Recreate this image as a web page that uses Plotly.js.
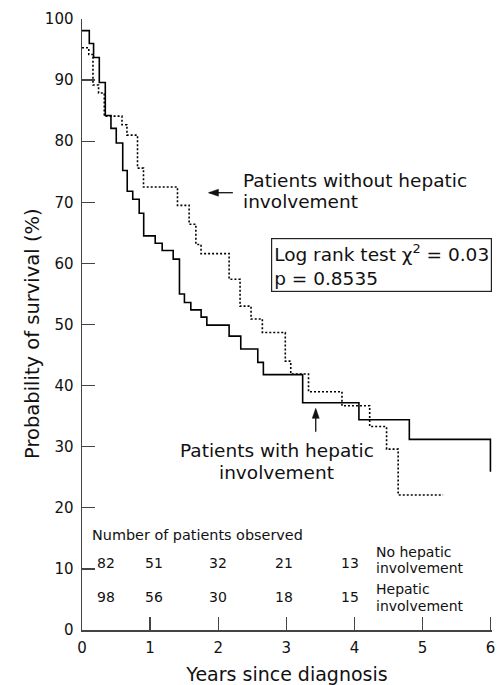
<!DOCTYPE html>
<html><head><meta charset="utf-8">
<script src="https://cdn.plot.ly/plotly-3.0.1.min.js"></script>
<style>html,body{margin:0;padding:0;background:#fff}</style>
</head><body><div id="chart" style="width:500px;height:685px"></div>
<script>
// Kaplan-Meier step data
const hepaticYears = [0, 0.107, 0.170, 0.254, 0.342, 0.425, 0.503, 0.598, 0.664, 0.745, 0.840, 0.906, 1.075, 1.177, 1.339, 1.431, 1.504, 1.598, 1.749, 1.833, 2.160, 2.331, 2.581, 2.663, 3.240, 4.066, 4.806, 5.997];
const hepaticSurvival = [98.1, 96.0, 93.7, 89.6, 84.2, 82.1, 79.7, 75.2, 71.8, 70.5, 68.2, 64.5, 63.3, 62.1, 60.7, 55.0, 53.6, 52.4, 51.2, 49.9, 48.1, 46.0, 43.8, 41.8, 37.2, 34.4, 31.2, 25.9];
const noHepaticYears = [0, 0.100, 0.161, 0.243, 0.327, 0.587, 0.660, 0.815, 0.903, 1.402, 1.573, 1.672, 1.748, 2.160, 2.321, 2.482, 2.648, 2.985, 3.065, 3.326, 3.817, 4.224, 4.472, 4.642, 5.302];
const noHepaticSurvival = [95.3, 94.2, 89.2, 87.9, 84.1, 82.7, 81.0, 75.6, 72.5, 69.5, 66.4, 63.1, 61.6, 57.4, 53.0, 50.9, 48.7, 44.0, 41.9, 39.0, 36.7, 33.3, 29.6, 22.1, 22.1];

// Number of patients observed table
const noHepaticCounts = [82, 51, 32, 21, 13];
const hepaticCounts = [98, 56, 30, 18, 15];
const rowLabels = [['No hepatic', 'involvement'], ['Hepatic', 'involvement']];

// Tick labels
const xTickVals = [0, 1, 2, 3, 4, 5, 6];
const yTickVals = [0, 10, 20, 30, 40, 50, 60, 70, 80, 90, 100];

// layout-only positions of the table columns (years) and rows (%)
const countCols = [0.35, 1.06, 2.0, 2.97, 3.93];
const rowY = [10.95, 5.45];
const rowLabelY = [[12.81, 10.2], [6.71, 3.98]];

const FONT = 'DejaVu Sans, Arial, sans-serif';
const AX = '#444';

const traces = [
  {x: hepaticYears, y: hepaticSurvival, type: 'scatter', mode: 'lines',
   line: {shape: 'hv', color: '#000', width: 1.6}, name: 'Hepatic involvement', hoverinfo: 'skip'},
  {x: noHepaticYears, y: noHepaticSurvival, type: 'scatter', mode: 'lines',
   line: {shape: 'hv', color: '#000', width: 1.6, dash: '2px,2px'}, name: 'No hepatic involvement', hoverinfo: 'skip'}
];

const ann = [];
const big = {family: FONT, size: 18.5, color: '#111'};
const small = {family: FONT, size: 14, color: '#111'};
function txt(x, y, text, font, xanchor, extra) {
  ann.push(Object.assign({x: x, y: y, xref: 'x', yref: 'y', xanchor: xanchor, yanchor: 'middle',
    text: text, showarrow: false, font: font}, extra || {}));
}
txt(2.34, 73.65, 'Patients without hepatic', big, 'left');
txt(2.34, 70.05, 'involvement', big, 'left');
ann.push({x: 2.78, y: 64.1, xref: 'x', yref: 'y', xanchor: 'left', yanchor: 'top', align: 'left',
  text: 'Log rank test χ<sup>2</sup> = 0.03<br>p = 0.8535', showarrow: false, font: big,
  bordercolor: '#222', borderwidth: 1.2, borderpad: 2, bgcolor: '#fff'});
txt(2.863, 29.46, 'Patients with hepatic', big, 'center');
txt(2.863, 25.74, 'involvement', big, 'center');
txt(0.115, 15.55, 'Number of patients observed', {family: FONT, size: 14.4, color: '#111'}, 'left');
[noHepaticCounts, hepaticCounts].forEach((row, r) => {
  row.forEach((v, i) => txt(countCols[i], rowY[r], String(v), small, 'center'));
  rowLabels[r].forEach((line, k) => txt(4.29, rowLabelY[r][k], line, small, 'left'));
});
// y axis title placed as in the figure
ann.push({x: -0.1195, y: 0.4845, xref: 'paper', yref: 'paper', xanchor: 'center', yanchor: 'middle',
  text: 'Probability of survival (%)', textangle: -90, showarrow: false,
  font: {family: FONT, size: 19.5, color: '#111'}});

// arrows (line + filled head)
const shapes = [
  {type: 'line', xref: 'x', yref: 'y', x0: 1.87, y0: 71.57, x1: 2.215, y1: 71.57, line: {color: '#111', width: 1.3}},
  {type: 'path', xref: 'x', yref: 'y', xsizemode: 'pixel', ysizemode: 'pixel', xanchor: 1.856, yanchor: 71.57,
   path: 'M0,0 L10,3.5 L10,-3.5 Z', fillcolor: '#111', line: {color: '#111', width: 0.5}},
  {type: 'line', xref: 'x', yref: 'y', x0: 3.432, y0: 32.45, x1: 3.432, y1: 36.0, line: {color: '#111', width: 1.3}},
  {type: 'path', xref: 'x', yref: 'y', xsizemode: 'pixel', ysizemode: 'pixel', xanchor: 3.432, yanchor: 36.28,
   path: 'M0,0 L-3.5,-10 L3.5,-10 Z', fillcolor: '#111', line: {color: '#111', width: 0.5}}
];

const layout = {
  width: 500, height: 685,
  margin: {l: 82, r: 8, t: 19, b: 55},
  paper_bgcolor: '#fff', plot_bgcolor: '#fff',
  showlegend: false,
  font: {family: FONT, color: '#111'},
  xaxis: {
    range: [0, 6.02], tickvals: xTickVals, ticktext: xTickVals.map(String),
    ticks: 'inside', ticklen: 13, tickwidth: 1.3, tickcolor: AX,
    showline: true, linecolor: AX, linewidth: 1.5, showgrid: false, zeroline: false,
    tickfont: {family: FONT, size: 15, color: '#111'}, ticklabelstandoff: 3,
    title: {text: 'Years since diagnosis', font: {family: FONT, size: 19, color: '#111'}, standoff: 16}
  },
  yaxis: {
    range: [0, 100], tickvals: yTickVals, ticktext: yTickVals.map(String),
    ticks: 'inside', ticklen: 13, tickwidth: 1.3, tickcolor: AX,
    showline: true, linecolor: AX, linewidth: 1.5, showgrid: false, zeroline: false,
    tickfont: {family: FONT, size: 15, color: '#111'}, ticklabelstandoff: 4
  },
  shapes: shapes,
  annotations: ann
};

Plotly.newPlot('chart', traces, layout, {displayModeBar: false, staticPlot: true});
</script>
</body></html>
